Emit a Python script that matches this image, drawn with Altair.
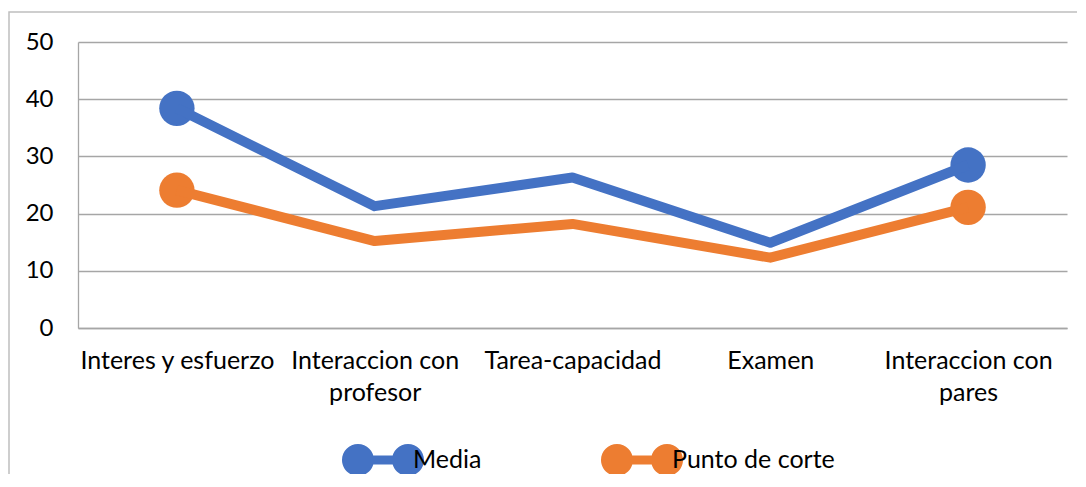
import altair as alt
import pandas as pd

categories = ["Interes y esfuerzo", "Interaccion con profesor", "Tarea-capacidad",
              "Examen", "Interaccion con pares"]
media = [38.4, 21.3, 26.3, 14.9, 28.5]
corte = [24.1, 15.2, 18.2, 12.3, 21.1]
series_names = ["Media", "Punto de corte"]
colors = ["#4472C4", "#ED7D31"]
y_ticks = [0, 10, 20, 30, 40, 50]

rows = []
for i, c in enumerate(categories):
    rows.append({"categoria": c, "serie": series_names[0], "valor": media[i], "orden": i})
    rows.append({"categoria": c, "serie": series_names[1], "valor": corte[i], "orden": i})
df = pd.DataFrame(rows)
ends = df[df["orden"].isin([0, len(categories) - 1])]

W, H = 989, 286
FONT = "Lato"
FS = 25

legend_path = ("M-1,0A0.39,0.39,0,1,1,-0.22,0A0.39,0.39,0,1,1,-1,0Z "
               "M0.22,0A0.39,0.39,0,1,1,1,0A0.39,0.39,0,1,1,0.22,0Z "
               "M-0.3,-0.11L0.3,-0.11L0.3,0.11L-0.3,0.11Z")

x_enc = alt.X(
    "categoria:N", sort=categories,
    scale=alt.Scale(type="point", padding=0.5),
    axis=alt.Axis(
        title=None, labelAngle=0, labelFont=FONT, labelFontSize=FS, labelColor="#000000",
        labelPadding=20, ticks=False, domainColor="#a6a6a6", domainWidth=1.3,
        labelLineHeight=32, labelLimit=400,
        labelExpr="indexof(datum.label, 'Interaccion con ') == 0 ? "
                  "['Interaccion con', substring(datum.label, 16)] : datum.label",
    ),
)
y_enc = alt.Y(
    "valor:Q", scale=alt.Scale(domain=[0, 50]),
    axis=alt.Axis(
        title=None, values=y_ticks, grid=True, gridColor="#a6a6a6", gridWidth=1.3,
        ticks=False, labelPadding=25, labelFont=FONT, labelFontSize=FS - 1,
        labelColor="#000000", domainColor="#a6a6a6", domainWidth=1.3,
    ),
)
color_enc = alt.Color(
    "serie:N", scale=alt.Scale(domain=series_names, range=colors),
    legend=alt.Legend(
        title=None, orient="none", legendX=264, legendY=377, direction="horizontal",
        symbolType=legend_path, symbolSize=6724, symbolStrokeWidth=0, symbolOpacity=1,
        labelFont=FONT, labelFontSize=FS, labelColor="#000000", labelLimit=400,
        labelOffset={"expr": "-11"},
        columnPadding=118,
    ),
)

points = alt.Chart(ends).mark_point(filled=True, shape="circle", size=1250, opacity=1).encode(
    x=x_enc, y=y_enc, color=color_enc
)
lines = alt.Chart(df).mark_line(strokeWidth=10, strokeJoin="round").encode(
    x=x_enc, y=y_enc, color=color_enc, detail="serie:N", order="orden:Q"
)
border = alt.Chart(pd.DataFrame({"b": [0]})).mark_rect(
    filled=False, stroke="#bfbfbf", strokeWidth=1.5
).encode(
    x=alt.value(-69), x2=alt.value(W + 200), y=alt.value(-30), y2=alt.value(H + 300)
)

chart = alt.layer(border, points, lines).properties(
    width=W, height=H,
    autosize=alt.AutoSizeParams(type="none"),
    padding={"left": 70, "top": 34, "right": 10, "bottom": 146},
).configure_view(stroke=None)

chart.save("out.html", embed_options={"renderer": "svg", "actions": False})
